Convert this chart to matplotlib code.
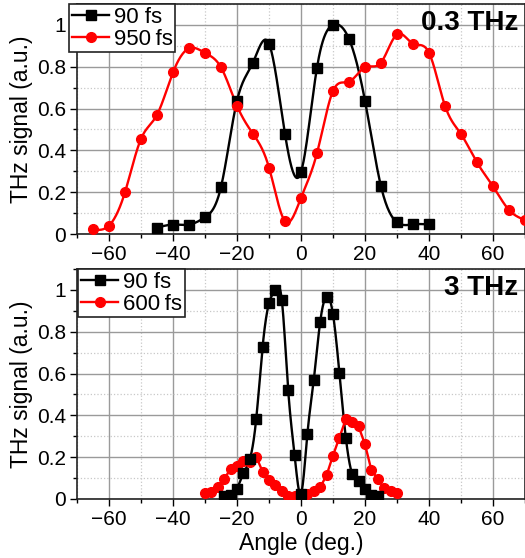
import numpy as np
import matplotlib
matplotlib.use("Agg")
import matplotlib.pyplot as plt
from matplotlib.ticker import MultipleLocator, FuncFormatter

plt.rcParams['font.family'] = ['Liberation Sans', 'DejaVu Sans']

# ---- data: 0.3 THz ----
top_x_90 = [-45, -40, -35, -30, -25, -20, -15, -10, -5, 0, 5, 10, 15, 20, 25, 30, 35, 40]
top_y_90 = [0.03, 0.045, 0.045, 0.08, 0.225, 0.637, 0.82, 0.91, 0.478, 0.296, 0.796, 1.0,
            0.933, 0.637, 0.228, 0.056, 0.046, 0.046]
top_x_950 = [-65, -60, -55, -50, -45, -40, -35, -30, -25, -20, -15, -10, -5, 0, 5, 10, 15,
             20, 25, 30, 35, 40, 45, 50, 55, 60, 65, 70]
top_y_950 = [0.022, 0.04, 0.2, 0.455, 0.57, 0.773, 0.888, 0.866, 0.797, 0.613, 0.479, 0.318,
             0.061, 0.173, 0.387, 0.684, 0.728, 0.797, 0.82, 0.955, 0.91, 0.867, 0.613,
             0.478, 0.342, 0.228, 0.115, 0.067]

# ---- data: 3 THz ----
bot_x_90 = [-24, -22, -20, -18, -16, -14, -12, -10, -8, -6, -4, -2, 0, 2, 4, 6, 8, 10, 12,
            14, 16, 18, 20, 22, 24]
bot_y_90 = [0.013, 0.018, 0.05, 0.123, 0.19, 0.382, 0.728, 0.936, 1.0, 0.952, 0.52, 0.21,
            0.025, 0.312, 0.571, 0.848, 0.968, 0.883, 0.603, 0.294, 0.12, 0.085, 0.048,
            0.019, 0.013]
bot_x_600 = [-30, -28, -26, -24, -22, -20, -18, -16, -14, -12, -10, -8, -6, -4, -2, 0, 2,
             4, 6, 8, 10, 12, 14, 16, 18, 20, 22, 24, 26, 28, 30]
bot_y_600 = [0.029, 0.035, 0.056, 0.098, 0.142, 0.157, 0.182, 0.178, 0.202, 0.131, 0.091,
             0.066, 0.037, 0.013, 0.014, 0.018, 0.024, 0.037, 0.056, 0.114, 0.208, 0.294,
             0.382, 0.366, 0.347, 0.261, 0.138, 0.096, 0.051, 0.04, 0.027]

xticks = [-60, -40, -20, 0, 20, 40, 60]
yticks = [0, 0.2, 0.4, 0.6, 0.8, 1.0]
xlabel = "Angle (deg.)"
ylabel = "THz signal (a.u.)"


def natural_spline(x, y, n=25):
    x = np.asarray(x, float)
    y = np.asarray(y, float)
    m = len(x)
    h = np.diff(x)
    A = np.zeros((m, m))
    r = np.zeros(m)
    A[0, 0] = 1
    A[-1, -1] = 1
    for i in range(1, m - 1):
        A[i, i - 1] = h[i - 1]
        A[i, i] = 2 * (h[i - 1] + h[i])
        A[i, i + 1] = h[i]
        r[i] = 6 * ((y[i + 1] - y[i]) / h[i] - (y[i] - y[i - 1]) / h[i - 1])
    M = np.linalg.solve(A, r)
    xs, ys = [], []
    for i in range(m - 1):
        t = np.linspace(x[i], x[i + 1], n, endpoint=False)
        a = x[i + 1] - t
        b = t - x[i]
        s = (M[i] * a ** 3 + M[i + 1] * b ** 3) / (6 * h[i]) \
            + (y[i] / h[i] - M[i] * h[i] / 6) * a + (y[i + 1] / h[i] - M[i + 1] * h[i] / 6) * b
        xs.append(t)
        ys.append(s)
    xs.append([x[-1]])
    ys.append([y[-1]])
    return np.concatenate(xs), np.concatenate(ys)


fig = plt.figure(figsize=(5.25, 5.58), dpi=100)
ax1 = fig.add_axes([77 / 525, 1 - 234 / 558, 448 / 525, 230 / 558])
ax2 = fig.add_axes([77 / 525, 1 - 499 / 558, 448 / 525, 230 / 558])

RED = '#ff0000'
LW = 1.7


def style(ax):
    ax.set_xlim(-70, 70)
    ax.set_ylim(0, 1.1)
    ax.set_xticks(xticks)
    ax.set_yticks(yticks)
    ax.xaxis.set_minor_locator(MultipleLocator(10))
    ax.yaxis.set_minor_locator(MultipleLocator(0.1))
    ax.yaxis.set_major_formatter(FuncFormatter(lambda v, p: ('%g' % round(v, 2))))
    ax.xaxis.set_major_formatter(FuncFormatter(lambda v, p: ('%d' % v).replace('-', '\u2212')))
    ax.grid(which='major', color='#9a9a9a', lw=1.0, ls='-')
    ax.grid(which='minor', color='#c8c8c8', lw=0.9, ls=':')
    ax.set_axisbelow(True)
    ax.tick_params(which='major', direction='out', length=5, width=1, labelsize=15, pad=3)
    ax.tick_params(which='minor', direction='out', length=3, width=1)
    for s in ax.spines.values():
        s.set_linewidth(1.2)
        s.set_color('#222222')
    ax.set_ylabel(ylabel, fontsize=16.5, labelpad=3)


style(ax1)
style(ax2)

legend_kw = dict(loc='upper left', bbox_transform=fig.transFigure,
                 fontsize=16, frameon=True, fancybox=False, framealpha=1, edgecolor='#222222',
                 borderpad=0.12, labelspacing=0.05, handlelength=1.7, handletextpad=0.2,
                 borderaxespad=0)

# top
sx, sy = natural_spline(top_x_90, top_y_90)
ax1.plot(sx, sy, color='black', lw=LW, zorder=3)
ax1.plot(top_x_90, top_y_90, 's', color='black', ms=6.5, zorder=4)
sx, sy = natural_spline(top_x_950, top_y_950)
ax1.plot(sx, sy, color=RED, lw=LW, zorder=3)
ax1.plot(top_x_950, top_y_950, 'o', color=RED, ms=7, zorder=4)
l1 = ax1.plot([], [], 's-', color='black', ms=6.5, lw=LW)[0]
l2 = ax1.plot([], [], 'o-', color=RED, ms=7, lw=LW)[0]
leg1 = ax1.legend([l1, l2], ['90 fs', '950\u2009fs'],
                  bbox_to_anchor=(69 / 525, 1 - 4 / 558), **legend_kw)
leg1.get_frame().set_linewidth(1.2)
ax1.text(0.985, 0.975, '0.3 THz', transform=ax1.transAxes, ha='right', va='top',
         fontsize=20, fontweight='bold')

# bottom
sx, sy = natural_spline(bot_x_90, bot_y_90)
ax2.plot(sx, sy, color='black', lw=LW, zorder=3)
ax2.plot(bot_x_90, bot_y_90, 's', color='black', ms=6.5, zorder=4)
ax2.plot(bot_x_600, bot_y_600, 'o-', color=RED, ms=7, lw=LW, zorder=3)
l3 = ax2.plot([], [], 's-', color='black', ms=6.5, lw=LW)[0]
l4 = ax2.plot([], [], 'o-', color=RED, ms=7, lw=LW)[0]
leg2 = ax2.legend([l3, l4], ['90 fs', '600\u2009fs'],
                  bbox_to_anchor=(78 / 525, 1 - 269 / 558), **legend_kw)
leg2.get_frame().set_linewidth(1.2)
ax2.text(0.985, 0.975, '3 THz', transform=ax2.transAxes, ha='right', va='top',
         fontsize=20, fontweight='bold')
ax2.set_xlabel(xlabel, fontsize=16.5, labelpad=2)

fig.savefig('out.png', dpi=100)
